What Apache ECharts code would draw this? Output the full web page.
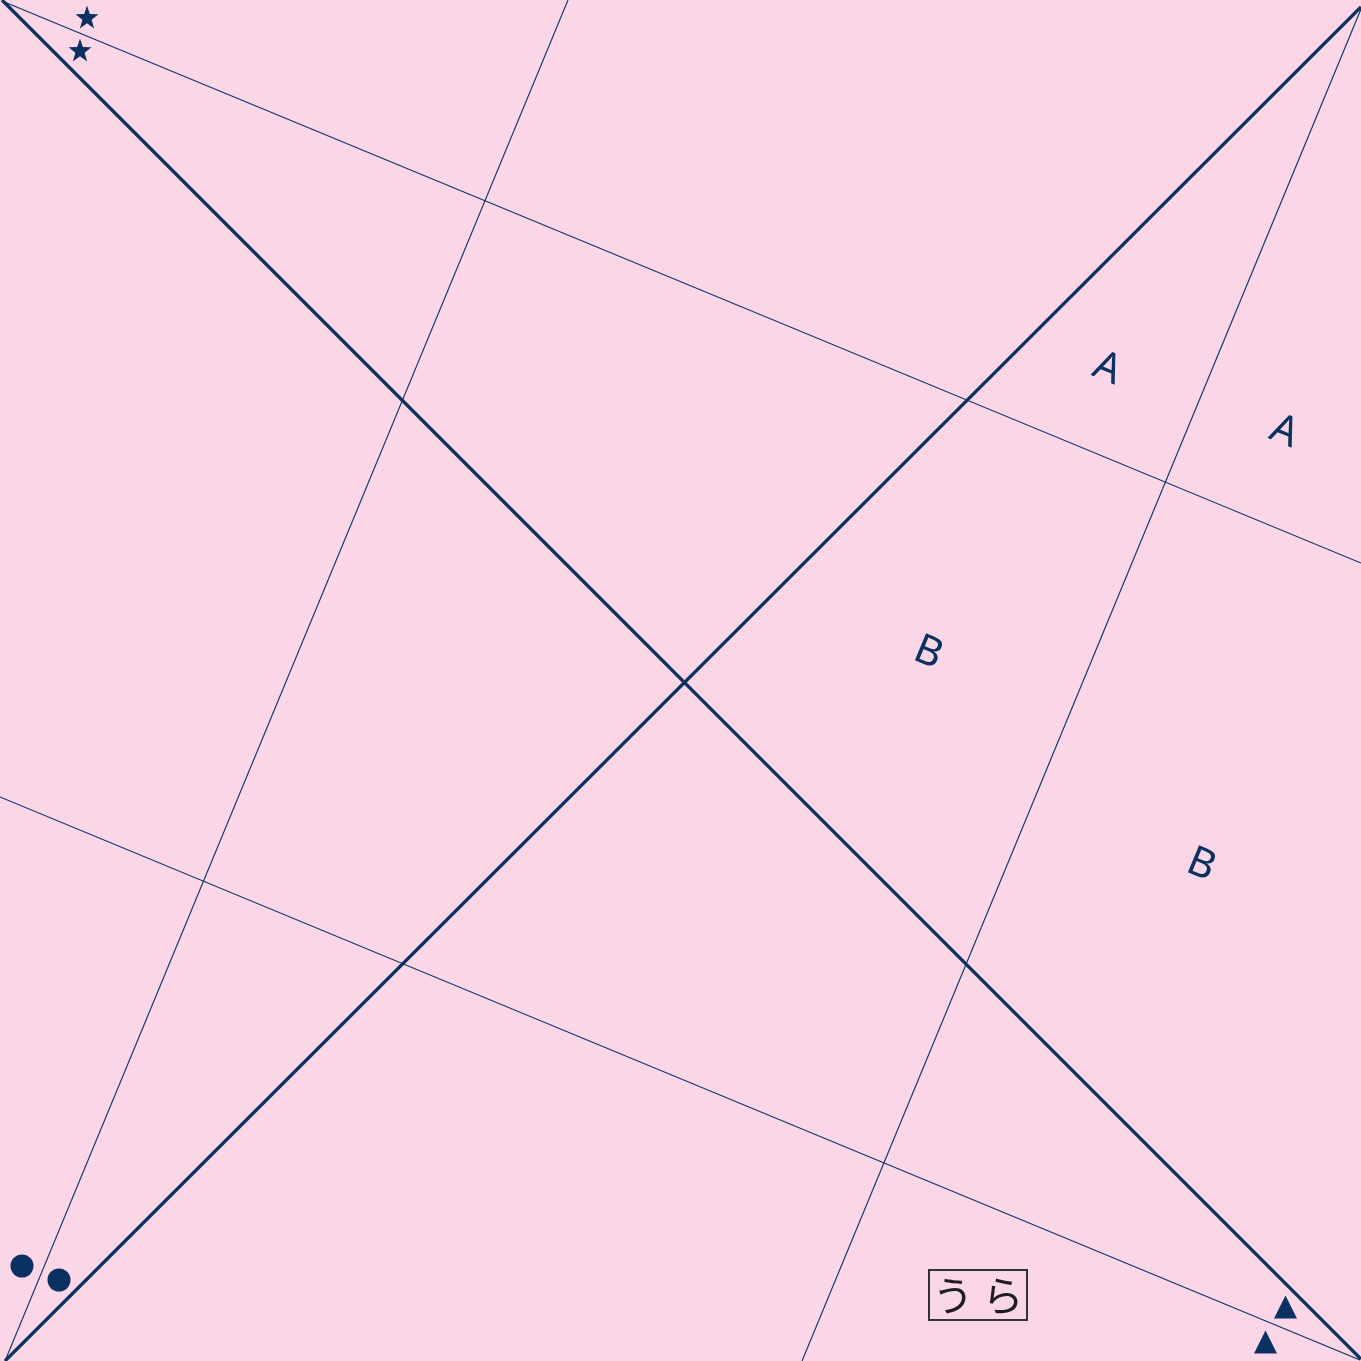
<!DOCTYPE html>
<html>
<head>
<meta charset="utf-8">
<script src="https://cdn.jsdelivr.net/npm/echarts@6/dist/echarts.min.js"></script>
<style>
html,body{margin:0;padding:0;background:#fad6e6;}
#chart{width:1361px;height:1361px;}
</style>
</head>
<body>
<div id="chart"></div>
<script>
// Fold lines (endpoints, in pixel-like units, y down)
var thickLines = [
  [[2, 0], [1361, 1359]],
  [[5, 1361], [1361, 7]]
];
var thinLines = [
  [[2, 1], [1361, 563]],
  [[5, 1361], [568, 0]],
  [[1361, 9], [802, 1361]],
  [[0, 797], [1360, 1360]]
];
var starPoints = [[87, 17], [80, 50]];
var circlePoints = [[22, 1266], [59, 1280]];
var trianglePoints = [[1285.5, 1307], [1265.5, 1342]];
var letterLabels = [
  {pos: [1107, 369], text: 'A'},
  {pos: [1284, 432], text: 'A'},
  {pos: [928, 653], text: 'B'},
  {pos: [1201, 865], text: 'B'}
];
var boxLabel = {pos: [978, 1295], text: 'う ら'};

var NAVY = '#0b3163';

function starPath() {
  var pts = [];
  for (var i = 0; i < 10; i++) {
    var r = (i % 2 === 0) ? 50 : 20;
    var a = -Math.PI / 2 + i * Math.PI / 5;
    pts.push((50 + r * Math.cos(a)).toFixed(2) + ',' + (52 + r * Math.sin(a)).toFixed(2));
  }
  return 'path://M' + pts.join('L') + 'Z';
}

var series = [];
thickLines.forEach(function (seg) {
  series.push({type: 'line', data: seg, symbol: 'none', silent: true,
    lineStyle: {color: NAVY, width: 3.3}, animation: false});
});
thinLines.forEach(function (seg) {
  series.push({type: 'line', data: seg, symbol: 'none', silent: true,
    lineStyle: {color: NAVY, width: 1.1}, animation: false});
});
series.push({type: 'scatter', data: starPoints, symbol: starPath(), symbolSize: 23,
  itemStyle: {color: NAVY, opacity: 1}, animation: false});
series.push({type: 'scatter', data: circlePoints, symbol: 'circle', symbolSize: 23,
  itemStyle: {color: NAVY, opacity: 1}, animation: false});
series.push({type: 'scatter', data: trianglePoints, symbol: 'triangle', symbolSize: 23,
  itemStyle: {color: NAVY, opacity: 1}, animation: false});
series.push({type: 'scatter', symbolSize: 0, animation: false,
  itemStyle: {opacity: 1},
  data: letterLabels.map(function (d) { return {value: d.pos, name: d.text}; }),
  label: {show: true, position: 'inside', formatter: '{b}', rotate: -22.5, opacity: 1,
    color: NAVY, fontSize: 41, fontFamily: 'Noto Sans', align: 'center', verticalAlign: 'middle'}
});
series.push({type: 'scatter', symbolSize: 0, animation: false,
  itemStyle: {opacity: 1},
  data: [{value: boxLabel.pos, name: boxLabel.text}],
  label: {show: true, position: 'inside', formatter: '{b}', opacity: 1,
    color: '#1e1e1e', fontSize: 41, fontFamily: 'Noto Sans CJK JP',
    align: 'center', verticalAlign: 'middle',
    width: 98, height: 50, lineHeight: 50, padding: 0,
    borderColor: '#333333', borderWidth: 2}
});

var chart = echarts.init(document.getElementById('chart'), null, {renderer: 'canvas'});
chart.setOption({
  backgroundColor: '#fad6e6',
  animation: false,
  grid: {left: 0, right: 0, top: 0, bottom: 0},
  xAxis: {type: 'value', min: 0, max: 1361, show: false},
  yAxis: {type: 'value', min: 0, max: 1361, inverse: true, show: false},
  series: series
});
</script>
</body>
</html>
